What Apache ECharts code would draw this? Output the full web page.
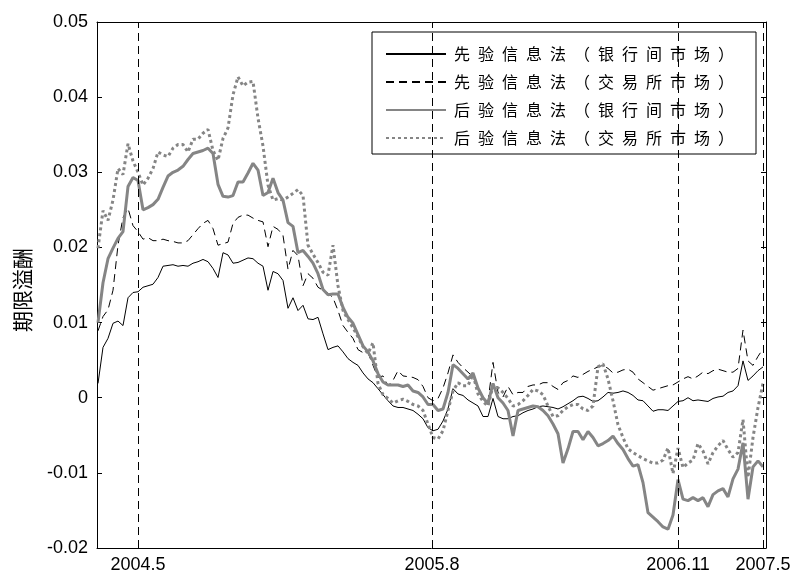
<!DOCTYPE html>
<html>
<head>
<meta charset="utf-8">
<script src="https://cdn.jsdelivr.net/npm/echarts@6/dist/echarts.min.js"></script>
<style>
  html, body { margin: 0; padding: 0; background: #fff; }
  #chart { width: 795px; height: 576px; }
</style>
</head>
<body>
<div id="chart"></div>
<script>
// Observation index (one point per period), 0 .. 133
const periodCount = 134;

// Tick positions on the time index and their date labels
const tickPositions = [8, 66.8, 116, 133];
const tickLabels = ['2004.5', '2005.8', '2006.11', '2007.5'];

// Series names
const seriesNames = [
  '先验信息法（银行间市场）',
  '先验信息法（交易所市场）',
  '后验信息法（银行间市场）',
  '后验信息法（交易所市场）'
];

// 先验信息法（银行间市场）
const priorInterbank = [
  0.0019,0.0067,0.0079,0.0099,0.0102,0.0096,0.0133,0.0140,0.0141,0.0147,
  0.0149,0.0151,0.0160,0.0175,0.0176,0.0177,0.0175,0.0176,0.0175,0.0179,
  0.0181,0.0184,0.0181,0.0172,0.0160,0.0193,0.0190,0.0179,0.0180,0.0183,
  0.0186,0.0185,0.0179,0.0175,0.0143,0.0168,0.0165,0.0156,0.0119,0.0133,
  0.0116,0.0123,0.0105,0.0104,0.0107,0.0085,0.0064,0.0067,0.0069,0.0061,
  0.0052,0.0047,0.0043,0.0033,0.0025,0.0020,0.0012,0.0004,-0.0004,-0.0011,
  -0.0013,-0.0013,-0.0015,-0.0017,-0.0022,-0.0028,-0.0040,-0.0044,-0.0042,-0.0031,
  -0.0015,0.0012,0.0005,0.0003,-0.0003,-0.0007,-0.0011,-0.0025,-0.0025,-0.0001,
  -0.0025,-0.0028,-0.0028,-0.0025,-0.0024,-0.0020,-0.0017,-0.0015,-0.0012,-0.0011,
  -0.0012,-0.0013,-0.0015,-0.0012,-0.0008,-0.0004,0.0001,0.0002,-0.0001,-0.0005,
  -0.0004,0.0001,0.0007,0.0006,0.0007,0.0009,0.0007,0.0003,-0.0003,-0.0004,
  -0.0011,-0.0018,-0.0016,-0.0016,-0.0017,-0.0011,-0.0005,-0.0004,0.0000,-0.0004,
  -0.0003,-0.0004,-0.0005,-0.0001,0.0001,0.0002,0.0007,0.0009,0.0016,0.0049,
  0.0023,0.0029,0.0036,0.0041
];

// 先验信息法（交易所市场）
const priorExchange = [
  0.0089,0.0108,0.0117,0.0143,0.0203,0.0240,0.0252,0.0229,0.0221,0.0211,
  0.0213,0.0209,0.0209,0.0211,0.0209,0.0208,0.0206,0.0206,0.0209,0.0217,
  0.0225,0.0232,0.0236,0.0225,0.0203,0.0205,0.0207,0.0232,0.0240,0.0243,
  0.0243,0.0239,0.0236,0.0234,0.0201,0.0228,0.0224,0.0216,0.0171,0.0196,
  0.0189,0.0149,0.0165,0.0159,0.0147,0.0143,0.0139,0.0133,0.0116,0.0096,
  0.0087,0.0079,0.0064,0.0060,0.0060,0.0043,0.0027,0.0029,0.0016,0.0023,
  0.0036,0.0029,0.0028,0.0027,0.0024,0.0015,0.0000,-0.0004,-0.0001,0.0013,
  0.0033,0.0057,0.0047,0.0040,0.0034,0.0028,0.0013,-0.0001,-0.0005,0.0047,
  0.0007,0.0001,0.0015,0.0004,0.0007,0.0007,0.0015,0.0017,0.0017,0.0020,
  0.0020,0.0015,0.0011,0.0020,0.0023,0.0029,0.0027,0.0031,0.0035,0.0038,
  0.0041,0.0043,0.0039,0.0033,0.0034,0.0037,0.0038,0.0034,0.0025,0.0020,
  0.0015,0.0010,0.0012,0.0014,0.0016,0.0017,0.0021,0.0025,0.0028,0.0025,
  0.0029,0.0034,0.0032,0.0036,0.0038,0.0036,0.0034,0.0034,0.0039,0.0090,
  0.0049,0.0043,0.0055,0.0065
];

// 后验信息法（银行间市场）
const posteriorInterbank = [
  0.0100,0.0153,0.0185,0.0199,0.0212,0.0221,0.0281,0.0293,0.0289,0.0250,
  0.0253,0.0257,0.0264,0.0280,0.0295,0.0300,0.0303,0.0308,0.0317,0.0325,
  0.0327,0.0329,0.0332,0.0325,0.0284,0.0268,0.0267,0.0269,0.0287,0.0287,
  0.0299,0.0312,0.0303,0.0269,0.0273,0.0292,0.0273,0.0263,0.0233,0.0228,
  0.0193,0.0196,0.0188,0.0179,0.0165,0.0144,0.0137,0.0138,0.0138,0.0120,
  0.0107,0.0099,0.0084,0.0069,0.0061,0.0049,0.0032,0.0021,0.0017,0.0017,
  0.0017,0.0015,0.0017,0.0009,0.0007,0.0001,-0.0009,-0.0009,-0.0017,-0.0015,
  0.0007,0.0044,0.0039,0.0032,0.0025,0.0033,0.0013,0.0000,-0.0008,0.0019,
  0.0000,-0.0007,-0.0017,-0.0051,-0.0017,-0.0015,-0.0013,-0.0011,-0.0012,-0.0017,
  -0.0024,-0.0035,-0.0048,-0.0087,-0.0068,-0.0045,-0.0045,-0.0056,-0.0045,-0.0053,
  -0.0064,-0.0061,-0.0057,-0.0051,-0.0061,-0.0069,-0.0081,-0.0091,-0.0089,-0.0113,
  -0.0153,-0.0159,-0.0165,-0.0172,-0.0175,-0.0156,-0.0109,-0.0135,-0.0137,-0.0133,
  -0.0137,-0.0133,-0.0145,-0.0129,-0.0124,-0.0121,-0.0132,-0.0108,-0.0095,-0.0060,
  -0.0135,-0.0092,-0.0084,-0.0092
];

// 后验信息法（交易所市场）
const posteriorExchange = [
  0.0199,0.0249,0.0236,0.0263,0.0305,0.0297,0.0338,0.0315,0.0300,0.0283,
  0.0292,0.0305,0.0327,0.0323,0.0321,0.0332,0.0337,0.0337,0.0327,0.0344,
  0.0344,0.0352,0.0357,0.0329,0.0316,0.0345,0.0359,0.0403,0.0427,0.0415,
  0.0420,0.0421,0.0372,0.0335,0.0283,0.0263,0.0265,0.0263,0.0267,0.0272,
  0.0277,0.0269,0.0203,0.0191,0.0180,0.0167,0.0163,0.0203,0.0149,0.0116,
  0.0104,0.0093,0.0081,0.0068,0.0059,0.0073,0.0019,0.0004,-0.0001,-0.0007,
  -0.0004,-0.0002,-0.0005,-0.0009,-0.0011,-0.0017,-0.0035,-0.0053,-0.0055,-0.0044,
  -0.0017,0.0009,0.0020,0.0016,0.0016,0.0031,0.0005,-0.0005,-0.0011,0.0016,
  0.0013,0.0007,-0.0001,-0.0011,-0.0009,-0.0004,0.0003,0.0011,0.0009,0.0004,
  -0.0011,-0.0025,-0.0024,-0.0017,-0.0012,-0.0009,-0.0009,-0.0015,-0.0017,-0.0011,
  0.0041,0.0045,0.0025,-0.0004,-0.0036,-0.0053,-0.0068,-0.0073,-0.0077,-0.0081,
  -0.0084,-0.0087,-0.0087,-0.0083,-0.0067,-0.0101,-0.0067,-0.0093,-0.0087,-0.0083,
  -0.0061,-0.0071,-0.0088,-0.0073,-0.0064,-0.0057,-0.0069,-0.0079,-0.0073,-0.0029,
  -0.0106,-0.0053,-0.0013,0.0019
];

const yMin = -0.02, yMax = 0.05, yStep = 0.01;

function pairs(values) {
  return values.map((v, i) => [i, v]);
}

const labelFont = {
  fontFamily: '"Liberation Sans", Arial, sans-serif',
  fontSize: 18,
  color: '#000'
};
const gray = '#858585';
const dashPattern = [8, 5];

const chart = echarts.init(document.getElementById('chart'), null, { renderer: 'canvas' });

const xCommon = {
  type: 'value',
  min: -0.2,
  max: periodCount - 0.4,
  splitLine: { show: false },
  axisLine: { show: true, onZero: false, lineStyle: { color: '#000', width: 1 } },
  axisTick: { show: true, inside: true, length: 5, customValues: tickPositions, lineStyle: { color: '#000' } }
};
const yCommon = {
  type: 'value',
  min: yMin,
  max: yMax,
  interval: yStep,
  splitLine: { show: false },
  axisLine: { show: true, onZero: false, lineStyle: { color: '#000', width: 1 } },
  axisTick: { show: true, inside: true, length: 5, lineStyle: { color: '#000' } }
};

chart.setOption({
  animation: false,
  backgroundColor: '#fff',
  grid: { left: 97, right: 29, top: 22, bottom: 28, containLabel: false },
  legend: {
    orient: 'vertical',
    left: 372,
    top: 32,
    padding: [14, 22, 8, 13],
    itemGap: 12,
    itemWidth: 60,
    itemHeight: 16,
    backgroundColor: '#fff',
    borderColor: '#000',
    borderWidth: 1,
    borderRadius: 0,
    selectedMode: false,
    data: seriesNames,
    itemStyle: { opacity: 0 },
    formatter: name => name.split('').join('\u2002'),
    textStyle: {
      fontFamily: '"Noto Sans CJK SC", sans-serif',
      fontSize: 16,
      color: '#000',
      padding: [0, 0, 0, 3]
    }
  },
  xAxis: [
    Object.assign({}, xCommon, {
      position: 'bottom',
      axisLabel: Object.assign({
        show: true,
        margin: 8,
        customValues: tickPositions,
        formatter: v => {
          const k = tickPositions.indexOf(v);
          return k >= 0 ? tickLabels[k] : '';
        }
      }, labelFont)
    }),
    Object.assign({}, xCommon, {
      position: 'top',
      axisLabel: { show: false }
    })
  ],
  yAxis: [
    Object.assign({}, yCommon, {
      position: 'left',
      name: '期限溢酬',
      nameLocation: 'middle',
      nameGap: 64,
      nameRotate: 90,
      nameTextStyle: {
        fontFamily: '"Noto Sans CJK SC", sans-serif',
        fontSize: 21,
        color: '#000',
        padding: [0, 10, 0, 0]
      },
      axisLabel: Object.assign({ show: true, margin: 9 }, labelFont)
    }),
    Object.assign({}, yCommon, {
      position: 'right',
      axisLabel: { show: false }
    })
  ],
  series: [
    {
      name: seriesNames[0],
      type: 'line',
      data: pairs(priorInterbank),
      symbol: 'none',
      lineStyle: { color: '#000', width: 1 },
      itemStyle: { color: '#000' },
      z: 3,
      markLine: {
        silent: true,
        symbol: ['none', 'none'],
        label: { show: false },
        lineStyle: { color: '#000', width: 1, type: dashPattern },
        emphasis: { disabled: true },
        data: tickPositions.map(v => ({ xAxis: v }))
      }
    },
    {
      name: seriesNames[1],
      type: 'line',
      data: pairs(priorExchange),
      symbol: 'none',
      lineStyle: { color: '#000', width: 1, type: dashPattern },
      itemStyle: { color: '#000' },
      z: 3
    },
    {
      name: seriesNames[2],
      type: 'line',
      data: pairs(posteriorInterbank),
      symbol: 'none',
      lineStyle: { color: gray, width: 3 },
      itemStyle: { color: gray },
      z: 4
    },
    {
      name: seriesNames[3],
      type: 'line',
      data: pairs(posteriorExchange),
      symbol: 'none',
      lineStyle: { color: gray, width: 3, type: [3, 3], cap: 'butt' },
      itemStyle: { color: gray },
      z: 4
    }
  ]
});
</script>
</body>
</html>
